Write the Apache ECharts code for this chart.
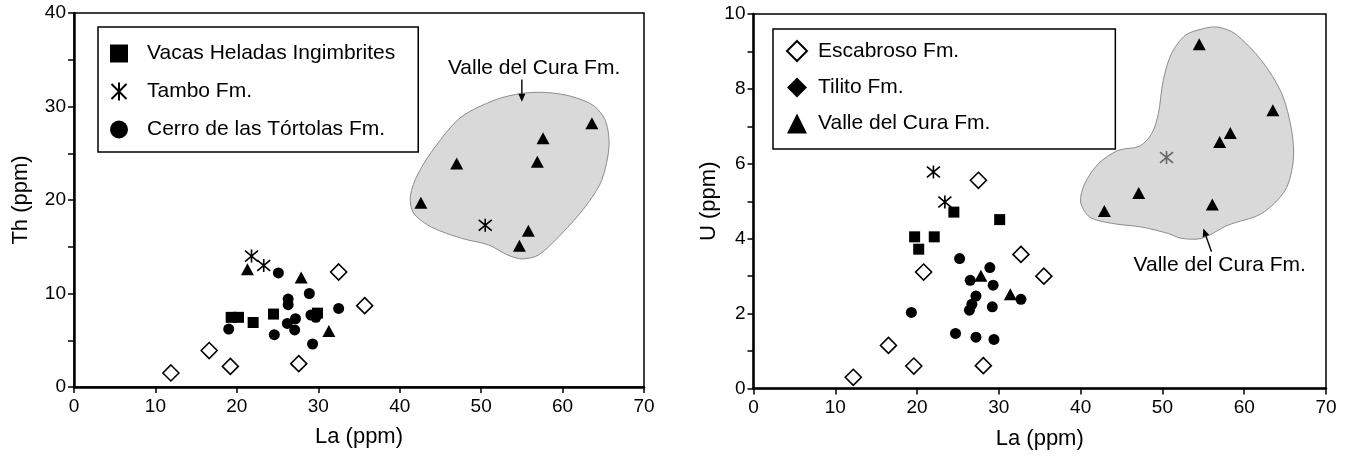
<!DOCTYPE html>
<html><head><meta charset="utf-8">
<script src="https://cdn.jsdelivr.net/npm/echarts@6/dist/echarts.min.js"></script>
<style>html,body{margin:0;padding:0;background:#fff}#c{width:1354px;height:461px}</style>
</head><body><div id="c"></div>
<script>
const FONT = '"Liberation Sans", Arial, Helvetica, sans-serif';

// ---- tick labels ----
const laTicks = [0, 10, 20, 30, 40, 50, 60, 70];
const thTicks = [0, 10, 20, 30, 40];
const uTicks = [0, 2, 4, 6, 8, 10];

// ---- series names ----
const NAME_VACAS = 'Vacas Heladas Ingimbrites';
const NAME_TAMBO = 'Tambo Fm.';
const NAME_CERRO = 'Cerro de las Tórtolas Fm.';
const NAME_ESC = 'Escabroso Fm.';
const NAME_TIL = 'Tilito Fm.';
const NAME_VALLE = 'Valle del Cura Fm.';

// ---- Th vs La ----
const vacasTh = [[19.3,7.45],[20.2,7.45],[22.0,6.9],[24.5,7.8],[29.9,7.9]];
const tamboTh = [[21.8,14.0],[23.3,13.0],[50.5,17.3]];
const cerroTh = [[19.0,6.2],[25.1,12.2],[28.9,10.0],[26.3,9.4],[26.3,8.8],[27.2,7.3],[26.2,6.8],[27.1,6.1],[24.6,5.6],[29.3,4.6],[29.1,7.7],[29.7,7.45],[32.5,8.4]];
const escabrosoTh = [[11.9,1.5],[16.6,3.9],[19.2,2.2],[27.6,2.5],[32.5,12.3],[35.7,8.7]];
const tilitoTh = [];
const valleTh = [[21.3,12.6],[27.9,11.7],[31.3,6.0],[42.6,19.7],[47.0,23.9],[56.9,24.1],[57.6,26.6],[63.6,28.2],[55.8,16.7],[54.7,15.1]];
const cloudTh = [[55.0,31.4],[51.7,30.7],[47.6,28.9],[44.7,26.1],[42.3,22.9],[41.3,20.4],[41.7,18.6],[43.9,17.1],[47.6,15.9],[50.9,15.2],[53.3,14.1],[55.0,13.7],[57.0,14.1],[59.9,16.4],[62.8,19.3],[64.8,22.1],[65.7,25.7],[65.3,28.4],[63.8,30.1],[61.0,31.1],[58.0,31.5]];
const noteTh = {text: 'Valle del Cura Fm.', at: [56.5, 34.1], from: [55.0, 32.9], to: [55.0, 30.5]};

// ---- U vs La ----
const vacasU = [[24.5,4.71],[30.1,4.51],[19.7,4.05],[22.1,4.05],[20.2,3.72]];
const tamboU = [[22.0,5.78],[23.4,4.98]];
const tamboUGrey = [[50.5,6.17]];
const cerroU = [[25.2,3.47],[28.9,3.23],[26.5,2.89],[29.3,2.76],[27.2,2.47],[26.7,2.25],[26.4,2.09],[29.2,2.18],[32.7,2.38],[19.3,2.03],[24.7,1.47],[27.2,1.37],[29.4,1.31]];
const escabrosoU = [[12.2,0.30],[16.5,1.15],[19.6,0.60],[20.8,3.11],[28.1,0.61],[32.7,3.58],[35.5,3.0],[27.5,5.56]];
const tilitoU = [];
const valleU = [[27.8,3.01],[31.4,2.52],[54.5,9.19],[63.5,7.43],[58.3,6.82],[57.0,6.58],[47.1,5.22],[42.9,4.74],[56.1,4.91]];
const cloudU = [[55.0,9.61],[52.8,9.43],[51.1,8.94],[50.1,8.23],[49.5,7.34],[48.7,6.81],[47.2,6.47],[44.6,6.36],[42.2,6.01],[40.5,5.47],[40.0,4.98],[41.1,4.58],[43.8,4.41],[47.5,4.31],[50.7,4.14],[52.3,4.01],[54.8,4.01],[58.0,4.36],[62.1,4.67],[65.0,5.29],[66.0,6.09],[65.8,6.89],[64.6,7.87],[62.1,8.76],[58.9,9.47],[56.8,9.65]];
const noteU = {text: 'Valle del Cura Fm.', at: [57.0, 3.29], from: [56.0, 3.65], to: [55.0, 4.27]};

const ASTERISK = 'path://M0,0L10,10M10,0L0,10M5,-1L5,11';

const chart = echarts.init(document.getElementById('c'), null, {renderer: 'canvas'});

function xAxis(gi) {
  return {
    type: 'value', gridIndex: gi,
    min: laTicks[0], max: laTicks[laTicks.length - 1], interval: laTicks[1] - laTicks[0],
    name: 'La (ppm)', nameLocation: 'middle', nameGap: 39,
    nameTextStyle: {fontSize: 22, color: '#000', fontFamily: FONT},
    axisLine: {show: true, onZero: false, lineStyle: {color: '#000', width: 2.5}},
    axisTick: {show: true, inside: false, length: 6, lineStyle: {color: '#000', width: 1.5}},
    axisLabel: {fontSize: 19, color: '#000', fontFamily: FONT, margin: 10},
    splitLine: {show: false}
  };
}
function yAxis(gi, ticks, name, gap) {
  return {
    type: 'value', gridIndex: gi,
    min: ticks[0], max: ticks[ticks.length - 1], interval: ticks[1] - ticks[0],
    name: name, nameLocation: 'middle', nameGap: gap, nameRotate: 90,
    nameTextStyle: {fontSize: 22, color: '#000', fontFamily: FONT},
    axisLine: {show: true, onZero: false, lineStyle: {color: '#000', width: 2.5}},
    axisTick: {show: true, inside: false, length: 6, lineStyle: {color: '#000', width: 1.5}},
    minorTick: {show: true, splitNumber: 2, length: 6, lineStyle: {color: '#000', width: 1.5}},
    axisLabel: {fontSize: 19, color: '#000', fontFamily: FONT, margin: 8},
    splitLine: {show: false}, minorSplitLine: {show: false}
  };
}

function scatter(name, gi, data, symbol, size, style) {
  return {
    type: 'scatter', name: name, xAxisIndex: gi, yAxisIndex: gi,
    data: data, symbol: symbol, symbolSize: size, z: 3,
    itemStyle: Object.assign({opacity: 1}, style), emphasis: {disabled: true}, silent: true
  };
}

function cloud(gi, outline, note) {
  return {
    type: 'custom', xAxisIndex: gi, yAxisIndex: gi, silent: true, z: 1, clip: false,
    data: [[outline[0][0], outline[0][1]]],
    renderItem: function (params, api) {
      const pts = outline.map(p => api.coord(p));
      const a = api.coord(note.from), b = api.coord(note.to), t = api.coord(note.at);
      const dx = b[0] - a[0], dy = b[1] - a[1], L = Math.hypot(dx, dy), ux = dx / L, uy = dy / L;
      const hl = 8, hw = 3.5;
      const base = [b[0] - ux * hl, b[1] - uy * hl];
      return {
        type: 'group', children: [
          {type: 'polygon', shape: {points: pts, smooth: 0.3}, style: {fill: '#d9d9d9', stroke: '#8c8c8c', lineWidth: 1}},
          {type: 'line', shape: {x1: a[0], y1: a[1], x2: base[0], y2: base[1]}, style: {stroke: '#000', lineWidth: 1.4}},
          {type: 'polygon', shape: {points: [b, [base[0] - uy * hw, base[1] + ux * hw], [base[0] + uy * hw, base[1] - ux * hw]]}, style: {fill: '#000'}},
          {type: 'text', x: t[0], y: t[1], style: {text: note.text, fontSize: 21, fontFamily: FONT, fill: '#000', align: 'center', verticalAlign: 'middle'}}
        ]
      };
    }
  };
}

const black = {color: '#000'};
const openDiamond = {color: '#fff', borderColor: '#000', borderWidth: 1.6};
const star = {color: '#000', borderColor: '#000', borderWidth: 1.6};

function seriesFor(gi, d) {
  return [
    cloud(gi, d.cloud, d.note),
    scatter(NAME_ESC, gi, d.esc, 'diamond', [16, 16], openDiamond),
    scatter(NAME_TIL, gi, d.til, 'diamond', [16, 16], black),
    scatter(NAME_VACAS, gi, d.vacas, 'rect', 11, black),
    scatter(NAME_CERRO, gi, d.cerro, 'circle', 11, black),
    scatter(NAME_VALLE, gi, d.valle, 'triangle', [13, 12], black),
    scatter(NAME_TAMBO, gi, d.tambo, ASTERISK, 13, star)
  ];
}

const series = [].concat(
  seriesFor(0, {cloud: cloudTh, note: noteTh, esc: escabrosoTh, til: tilitoTh, vacas: vacasTh, cerro: cerroTh, valle: valleTh,
    tambo: tamboTh}),
  seriesFor(1, {cloud: cloudU, note: noteU, esc: escabrosoU, til: tilitoU, vacas: vacasU, cerro: cerroU, valle: valleU,
    tambo: tamboU.concat(tamboUGrey.map(p => ({value: p, itemStyle: {color: '#666', borderColor: '#666'}})))})
);

chart.setOption({
  animation: false,
  backgroundColor: '#fff',
  textStyle: {fontFamily: FONT},
  grid: [
    {left: 74, top: 13, width: 570, height: 374, show: true, borderColor: '#000', borderWidth: 1.5, backgroundColor: 'transparent'},
    {left: 753.5, top: 14, width: 572.5, height: 374.5, show: true, borderColor: '#000', borderWidth: 1.5, backgroundColor: 'transparent'}
  ],
  xAxis: [xAxis(0), xAxis(1)],
  yAxis: [yAxis(0, thTicks, 'Th (ppm)', 42), yAxis(1, uTicks, 'U (ppm)', 34)],
  legend: [
    {
      data: [NAME_VACAS, NAME_TAMBO, NAME_CERRO],
      orient: 'vertical', left: 98, top: 27, itemWidth: 18, itemHeight: 18, itemGap: 17,
      padding: [16, 23, 12, 12], borderColor: '#000', borderWidth: 1.5, borderRadius: 0,
      backgroundColor: '#fff', selectedMode: false,
      itemStyle: {opacity: 1},
      textStyle: {fontSize: 21, color: '#000', fontFamily: FONT, padding: [0, 0, 0, 14]}
    },
    {
      data: [NAME_ESC, NAME_TIL, NAME_VALLE],
      orient: 'vertical', left: 773, top: 29, itemWidth: 20, itemHeight: 20, itemGap: 15,
      padding: [11, 125, 15, 13], borderColor: '#000', borderWidth: 1.5, borderRadius: 0,
      backgroundColor: '#fff', selectedMode: false,
      itemStyle: {opacity: 1},
      textStyle: {fontSize: 21, color: '#000', fontFamily: FONT, padding: [0, 0, 0, 6]}
    }
  ],
  series: series
});
</script>
</body></html>
